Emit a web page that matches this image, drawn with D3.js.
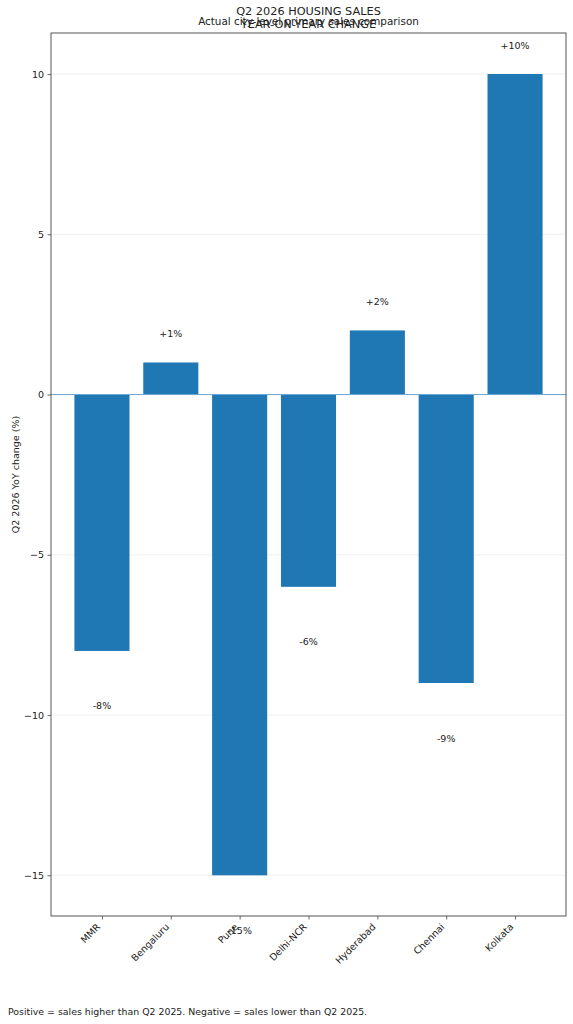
<!DOCTYPE html>
<html>
<head>
<meta charset="utf-8">
<script src="https://cdn.jsdelivr.net/npm/d3@7/dist/d3.min.js"></script>
<style>
  html, body { margin: 0; padding: 0; background: #fff; }
  svg text { font-family: "DejaVu Sans", sans-serif; fill: #222; }
</style>
</head>
<body>
<svg id="chart" width="573" height="1024"></svg>
<script>
const cities = ["MMR", "Bengaluru", "Pune", "Delhi-NCR", "Hyderabad", "Chennai", "Kolkata"];
const yoyChange = [-8, 1, -15, -6, 2, -9, 10];
const valueLabels = ["-8%", "+1%", "-15%", "-6%", "+2%", "-9%", "+10%"];
const yTicks = [-15, -10, -5, 0, 5, 10];
const titleLines = ["Q2 2026 HOUSING SALES", "YEAR-ON-YEAR CHANGE"];
const subtitle = "Actual city-level primary sales comparison";
const yAxisLabel = "Q2 2026 YoY change (%)";
const footer = "Positive = sales higher than Q2 2025. Negative = sales lower than Q2 2025.";

const svg = d3.select("#chart");
const L = 51, R = 566, T = 33, B = 916;
const barColor = "#1f77b4";

const x = d3.scaleLinear().domain([-0.74, 6.74]).range([L, R]);
const y = d3.scaleLinear().domain([-16.27, 11.28]).range([B, T]);
const barW = (x(1) - x(0)) * 0.8;

// grid
svg.append("g").selectAll("line").data(yTicks).join("line")
  .attr("x1", L).attr("x2", R)
  .attr("y1", d => y(d)).attr("y2", d => y(d))
  .attr("stroke", "#ececec").attr("stroke-width", 0.8);

// bars
svg.append("g").selectAll("rect").data(yoyChange).join("rect")
  .attr("x", (d, i) => x(i) - barW / 2)
  .attr("width", barW)
  .attr("y", d => y(Math.max(0, d)))
  .attr("height", d => Math.abs(y(d) - y(0)))
  .attr("fill", barColor);

// zero line
svg.append("line")
  .attr("x1", L).attr("x2", R)
  .attr("y1", y(0)).attr("y2", y(0))
  .attr("stroke", "#6ea6d4").attr("stroke-width", 1);

// value labels
svg.append("g").selectAll("text").data(yoyChange).join("text")
  .attr("x", (d, i) => x(i))
  .attr("y", d => y(d >= 0 ? d + 0.9 : d - 1.72))
  .attr("dy", "0.36em")
  .attr("text-anchor", "middle")
  .attr("font-size", 9.5)
  .text((d, i) => valueLabels[i]);

// frame
svg.append("rect")
  .attr("x", L).attr("y", T).attr("width", R - L).attr("height", B - T)
  .attr("fill", "none").attr("stroke", "#444").attr("stroke-width", 0.9);

// y axis
const yAxis = d3.axisLeft(y).tickValues(yTicks).tickSize(3.5).tickPadding(3.5)
  .tickFormat(d => d < 0 ? "\u2212" + Math.abs(d) : String(d));
const gy = svg.append("g").attr("transform", `translate(${L},0)`).call(yAxis);
gy.select(".domain").remove();
gy.selectAll(".tick line").attr("stroke", "#444").attr("stroke-width", 0.8);
gy.selectAll(".tick text").attr("font-size", 9.5).attr("fill", "#222")
  .style("font-family", "DejaVu Sans, sans-serif");

// x axis
const xAxis = d3.axisBottom(x).tickValues(d3.range(cities.length)).tickSize(3.5)
  .tickFormat(i => cities[i]);
const gx = svg.append("g").attr("transform", `translate(0,${B})`).call(xAxis);
gx.select(".domain").remove();
gx.selectAll(".tick line").attr("stroke", "#444").attr("stroke-width", 0.8);
gx.selectAll(".tick text")
  .attr("font-size", 9.5).attr("fill", "#222")
  .style("font-family", "DejaVu Sans, sans-serif")
  .attr("text-anchor", "end")
  .attr("x", null).attr("y", null).attr("dy", null)
  .attr("transform", "translate(-1.5,11.5) rotate(-45)");

// y label
svg.append("text")
  .attr("transform", `translate(19,${(T + B) / 2}) rotate(-90)`)
  .attr("text-anchor", "middle")
  .attr("font-size", 9.5)
  .text(yAxisLabel);

// titles
const cx = (L + R) / 2;
svg.append("text").attr("x", cx).attr("y", 15).attr("text-anchor", "middle")
  .attr("font-size", 11.3).text(titleLines[0]);
svg.append("text").attr("x", cx).attr("y", 27.5).attr("text-anchor", "middle")
  .attr("font-size", 11.3).text(titleLines[1]);
svg.append("text").attr("x", cx).attr("y", 24.5).attr("text-anchor", "middle")
  .attr("font-size", 10.4).text(subtitle);

// footer
svg.append("text").attr("x", 8).attr("y", 1014.5)
  .attr("font-size", 9.4).text(footer);
</script>
</body>
</html>
